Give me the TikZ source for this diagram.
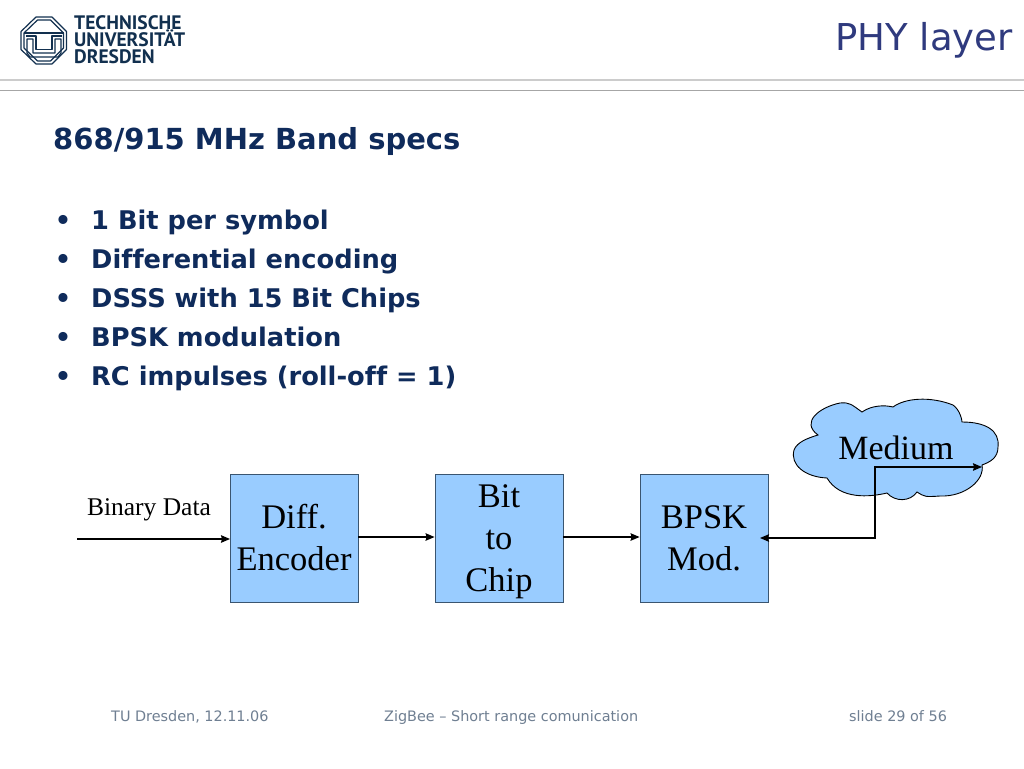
\documentclass[tikz,border=0pt]{standalone}
\usepackage{fontspec}
\setmainfont[Ligatures=NoCommon]{DejaVu Sans}
\newfontfamily\timesfont{Liberation Serif}
\newfontfamily\logofont{PT Sans}
\usetikzlibrary{arrows.meta, calc, positioning}
\definecolor{boxblue}{HTML}{99CCFF}
\definecolor{boxline}{HTML}{3A5570}
\definecolor{titleblue}{HTML}{2F3A7E}
\definecolor{headblue}{HTML}{0F2B5B}
\definecolor{footgray}{HTML}{6F7F92}
\definecolor{logoblue}{HTML}{12304F}

\begin{document}
\begin{tikzpicture}[x=1pt, y=-1pt, >={Stealth[length=9pt, width=7.5pt, inset=1pt]}, node distance=205pt]
    \tikzstyle{format} = [draw=boxline, line width=0.9pt, fill=boxblue, minimum size=128pt,
	inner sep=0pt, align=center, font=\timesfont\fontsize{34.5}{42}\selectfont]
    \tikzstyle{heading} = [anchor=base west, inner sep=0pt, text=headblue,
	font=\bfseries\fontsize{25.7}{32}\selectfont]
    \tikzstyle{footer} = [anchor=base west, inner sep=0pt, text=footgray,
	font=\fontsize{14.4}{17}\selectfont]
    \tikzstyle{logoline} = [logoblue, line width=1.2pt, line join=round]

	\useasboundingbox (0,0) rectangle (1024,768);
	\fill[white] (0,0) rectangle (1024,768);

	% header
	\draw[black!20, line width=1.5pt] (0,80) -- (1024,80);
	\draw[black!35, line width=1pt] (0,90) -- (1024,90);
	\node[anchor=base east, inner sep=0pt, text=titleblue,
		font=\fontsize{37}{40}\selectfont] (title) at (1013,51) {PHY layer};

	% logo
	\draw[logoline] (36,17) -- (52,17) -- (66.5,31.5) -- (66.5,49.5)
		-- (52,64) -- (36,64) -- (21,49.5) -- (21,31.5) -- cycle;
	\draw[logoline] (37.5,20) -- (50.5,20) -- (63.5,33) -- (63.5,48)
		-- (50.5,61) -- (37.5,61) -- (24,48) -- (24,33) -- cycle;
	\draw[logoline] (24,33) -- (63.5,33);
	\draw[logoline] (26,36) -- (36,36) -- (36,49.5) -- (52,49.5) -- (52,36) -- (61.5,36);
	\draw[logoline] (27,39) -- (27,53) -- (30,57) -- (58,57) -- (61,53) -- (61,39)
		-- (55,39) -- (55,53) -- (33,53) -- (33,39) -- cycle;
	\node[anchor=north west, inner sep=0pt, align=left, text=logoblue,
		font=\logofont\bfseries\fontsize{19.5}{17}\selectfont]
		(logo) at (74,15) {TECHNISCHE\\UNIVERSITÄT\\DRESDEN};

	% text
	\node[heading, font=\bfseries\fontsize{29}{32}\selectfont] (head) at (53,149) {868/915 MHz Band specs};
	\foreach \ypos/\itemtext in {229/1 Bit per symbol, 268/Differential encoding,
		307/DSSS with 15 Bit Chips, 346/BPSK modulation, 385/RC impulses (roll-off = 1)} {
		\node[heading, anchor=base] at (63,\ypos) {•};
		\node[heading] at (91,\ypos) {\itemtext};
	}

	% cloud
	\draw[black, fill=boxblue, line width=0.9pt]
		(818,435) .. controls (800,422) and (820,407) .. (840,403)
		.. controls (850,402) and (852,405) .. (862,412)
		.. controls (872,405) and (885,405) .. (893,407)
		.. controls (905,398) and (930,396) .. (953,405)
		.. controls (960,410) and (962,420) .. (962,422)
		.. controls (985,422) and (1000,430) .. (998,447)
		.. controls (998,458) and (990,462) .. (982,465)
		.. controls (985,480) and (965,497) .. (940,496)
		.. controls (925,497) and (925,497) .. (917,492)
		.. controls (910,502) and (895,502) .. (887,493)
		.. controls (870,497) and (840,500) .. (827,478)
		.. controls (805,477) and (790,465) .. (794,450)
		.. controls (797,442) and (808,438) .. (818,435) -- cycle;
	\node[text=black, inner sep=0pt, font=\timesfont\fontsize{34}{40}\selectfont]
		(medium) at (896,448) {Medium};

	% blocks
	\path[->, line width=1.2pt]
		node[format] (diff) at (294,538) {Diff.\\Encoder}
		node[format, right of=diff] (bit) {Bit\\to\\\smash{Chip}}
		node[format, right of=bit] (bpsk) {BPSK\\Mod.}
		node[inner sep=0pt, font=\timesfont\fontsize{25.5}{30}\selectfont] (binary) at (149,510) {Binary Data}
		coordinate (start) at (77,539)
		coordinate (diffin) at (230,539)
		coordinate (bpskport) at (760,538)
		coordinate (bend) at (875,467)
		coordinate (mediumport) at (982,467)

		(start) edge (diffin)
		(diff.east |- 0,537) edge (bit.west |- 0,537)
		(bit.east |- 0,537) edge (bpsk.west |- 0,537)
	;
	\draw[<->, line width=1.2pt] (bpskport) -| (bend) -- (mediumport);

	% footer
	\node[footer] (place) at (111,721) {TU Dresden, 12.11.06};
	\node[footer] (talk) at (384,721) {ZigBee – Short range comunication};
	\node[footer] (slide) at (849,721) {slide 29 of 56};

\end{tikzpicture}
\end{document}
